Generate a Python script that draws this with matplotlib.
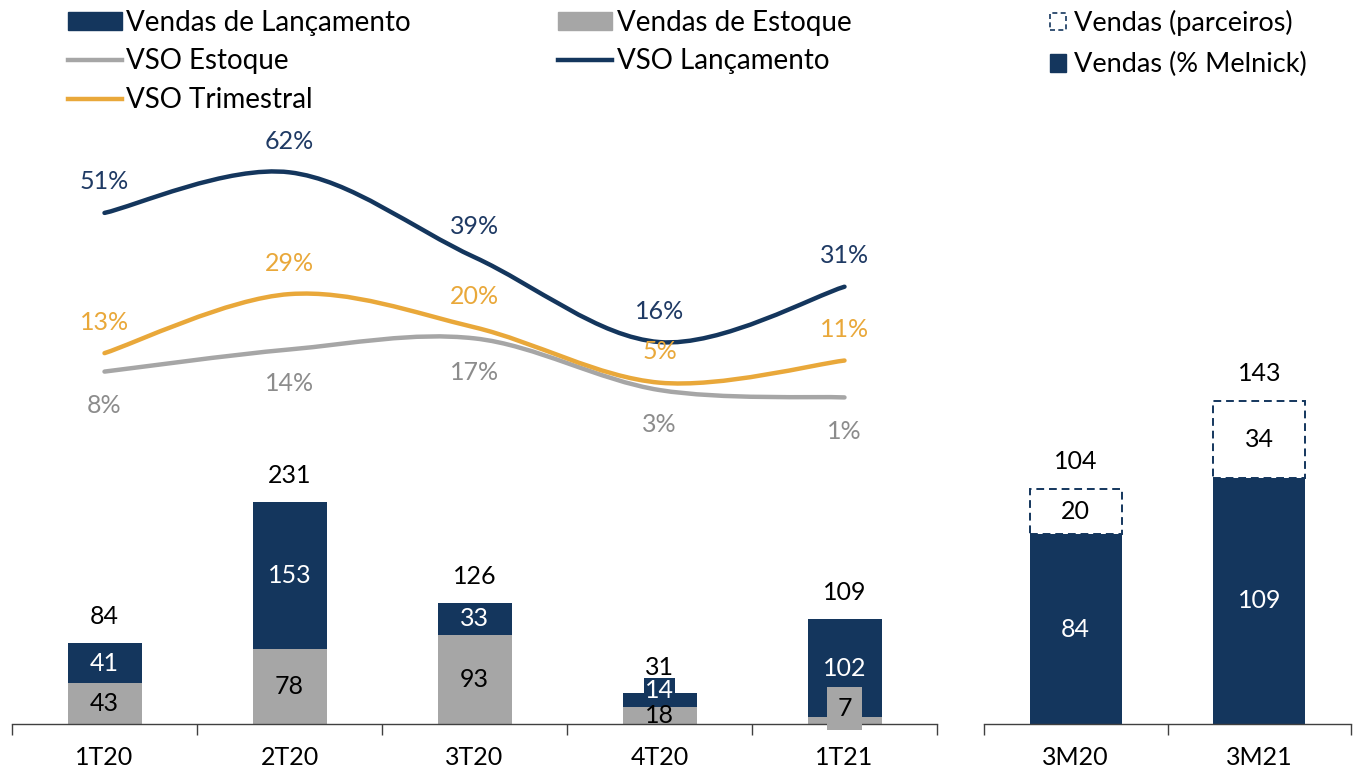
import numpy as np
import matplotlib.pyplot as plt
from matplotlib.path import Path
from matplotlib.patches import PathPatch, Patch
from matplotlib.lines import Line2D

plt.rcParams['font.family'] = ['Lato', 'DejaVu Sans']

# quarterly data
quarters = ["1T20", "2T20", "3T20", "4T20", "1T21"]
vendas_estoque = [43, 78, 93, 18, 7]
vendas_lancamento = [41, 153, 33, 14, 102]
vendas_total = [84, 231, 126, 31, 109]
vso_lancamento = [51, 62, 39, 16, 31]
vso_trimestral = [13, 29, 20, 5, 11]
vso_estoque = [8, 14, 17, 3, 1]

# year-to-date data
periodos = ["3M20", "3M21"]
vendas_melnick = [84, 109]
vendas_parceiros = [20, 34]
vendas_3m_total = [104, 143]

NAVY = "#14365D"
GREY = "#A6A6A6"
ORANGE = "#E9A83A"
GREY_TXT = "#8C8C8C"
NAVY_TXT = "#1F3A64"

W, H = 1356, 772


def rect(x0, y0, x1, y1):
    return [x0 / W, 1 - y1 / H, (x1 - x0) / W, (y1 - y0) / H]


def smooth_path(xs, ys):
    # Excel-like smoothed line: Catmull-Rom converted to cubic Bezier segments
    pts = np.column_stack([xs, ys]).astype(float)
    n = len(pts)
    verts = [pts[0]]
    codes = [Path.MOVETO]
    for i in range(n - 1):
        p0 = pts[i - 1] if i > 0 else pts[i]
        p1, p2 = pts[i], pts[i + 1]
        p3 = pts[i + 2] if i + 2 < n else pts[i + 1]
        c1 = p1 + (p2 - p0) / 6.0
        c2 = p2 - (p3 - p1) / 6.0
        verts += [c1, c2, p2]
        codes += [Path.CURVE4] * 3
    return Path(verts, codes)


def style_axis(a, n):
    for s in ["top", "right", "left"]:
        a.spines[s].set_visible(False)
    a.spines["bottom"].set_color("#404040")
    a.spines["bottom"].set_linewidth(1.0)
    a.set_xlim(-0.5, n - 0.5)
    a.set_xticks(range(n))
    a.set_xticks(np.arange(-0.5, n, 1.0), minor=True)
    a.tick_params(axis="x", which="major", length=0, pad=16, labelsize=18, labelcolor="black")
    a.tick_params(axis="x", which="minor", length=8, width=1.0, color="#404040", direction="out")
    a.set_yticks([])


fig = plt.figure(figsize=(13.56, 7.72), dpi=100)

# ---- left panel: stacked bars + VSO lines
ax = fig.add_axes(rect(12, 100, 937, 724))
x = np.arange(len(quarters))
bw = 0.4
ax.bar(x, vendas_estoque, bw, color=GREY, label="Vendas de Estoque")
ax.bar(x, vendas_lancamento, bw, bottom=vendas_estoque, color=NAVY, label="Vendas de Lançamento")
ax.set_ylim(0, 650)
style_axis(ax, len(quarters))
ax.set_xticklabels(quarters)

fs = 18
for i in range(len(quarters)):
    e, l, t = vendas_estoque[i], vendas_lancamento[i], vendas_total[i]
    if i == 3:
        ax.annotate(str(e), (i, e / 2), ha="center", va="center", fontsize=fs, color="black")
        ax.annotate(str(l), (i, e + l / 2), xytext=(0, 9), textcoords="offset pixels",
                    ha="center", va="center", fontsize=fs, color="white",
                    bbox=dict(boxstyle="square,pad=0.05", fc=NAVY, ec="none"))
    elif i == 4:
        ax.annotate(str(e), (i, e / 2), xytext=(0, 12), textcoords="offset pixels",
                    ha="center", va="center", fontsize=fs, color="black",
                    bbox=dict(boxstyle="square,pad=0.4", fc=GREY, ec="none"))
        ax.annotate(str(l), (i, e + l / 2), ha="center", va="center", fontsize=fs, color="white")
    else:
        ax.annotate(str(e), (i, e / 2), ha="center", va="center", fontsize=fs, color="black")
        ax.annotate(str(l), (i, e + l / 2), ha="center", va="center", fontsize=fs, color="white")
    ax.annotate(str(t), (i, t), xytext=(0, 27), textcoords="offset pixels",
                ha="center", va="center", fontsize=fs, color="black")

axl = ax.twinx()
axl.set_ylim(-87.5, 81.6)
axl.set_xlim(-0.5, len(quarters) - 0.5)
axl.axis("off")
series = [
    (vso_estoque, GREY, GREY_TXT, -34),
    (vso_trimestral, ORANGE, ORANGE, 31),
    (vso_lancamento, NAVY, NAVY_TXT, 31),
]
for vals, col, tcol, off in series:
    axl.add_patch(PathPatch(smooth_path(x, vals), fc="none", ec=col, lw=3.2, capstyle="round"))
    for i, v in enumerate(vals):
        axl.annotate(f"{v}%", (i, v), xytext=(0, off), textcoords="offset pixels",
                     ha="center", va="center", fontsize=fs, color=tcol)

handles = [
    Patch(color=NAVY, label="Vendas de Lançamento"),
    Line2D([], [], color=GREY, lw=3.2, label="VSO Estoque"),
    Line2D([], [], color=ORANGE, lw=3.2, label="VSO Trimestral"),
    Patch(color=GREY, label="Vendas de Estoque"),
    Line2D([], [], color=NAVY, lw=3.2, label="VSO Lançamento"),
]
fig.legend(handles=handles, loc="upper left", bbox_to_anchor=(68 / W, 1 - 10 / H), ncol=2,
           frameon=False, prop=dict(size=20),
           borderpad=0, borderaxespad=0, handlelength=1.95, handleheight=0.62,
           handletextpad=0.15, columnspacing=5.3, labelspacing=0.45)

# ---- right panel: YTD sales
axr = fig.add_axes(rect(984, 100, 1351, 724))
xr = np.arange(len(periodos))
bw2 = 0.5
axr.bar(xr, vendas_melnick, bw2, color=NAVY)
axr.bar(xr, vendas_parceiros, bw2, bottom=vendas_melnick, fill=False, edgecolor=NAVY,
        linestyle=(0, (4, 2.5)), linewidth=1.4)
axr.set_ylim(0, 276)
style_axis(axr, len(periodos))
axr.set_xticklabels(periodos)
for i in range(len(periodos)):
    m, p, t = vendas_melnick[i], vendas_parceiros[i], vendas_3m_total[i]
    axr.annotate(str(m), (i, m / 2), ha="center", va="center", fontsize=fs, color="white")
    axr.annotate(str(p), (i, m + p / 2), ha="center", va="center", fontsize=fs, color="black")
    axr.annotate(str(t), (i, t), xytext=(0, 27), textcoords="offset pixels",
                 ha="center", va="center", fontsize=fs, color="black")

handles_r = [
    Patch(fill=False, edgecolor=NAVY, linestyle=(0, (3, 2)), linewidth=1.2, label="Vendas (parceiros)"),
    Patch(color=NAVY, label="Vendas (% Melnick)"),
]
fig.legend(handles=handles_r, loc="upper left", bbox_to_anchor=(1050 / W, 1 - 10 / H),
           frameon=False, prop=dict(size=19.5),
           borderpad=0, borderaxespad=0, handlelength=0.6, handleheight=0.6,
           handletextpad=0.3, labelspacing=0.6)

fig.savefig("out.png", dpi=100)
